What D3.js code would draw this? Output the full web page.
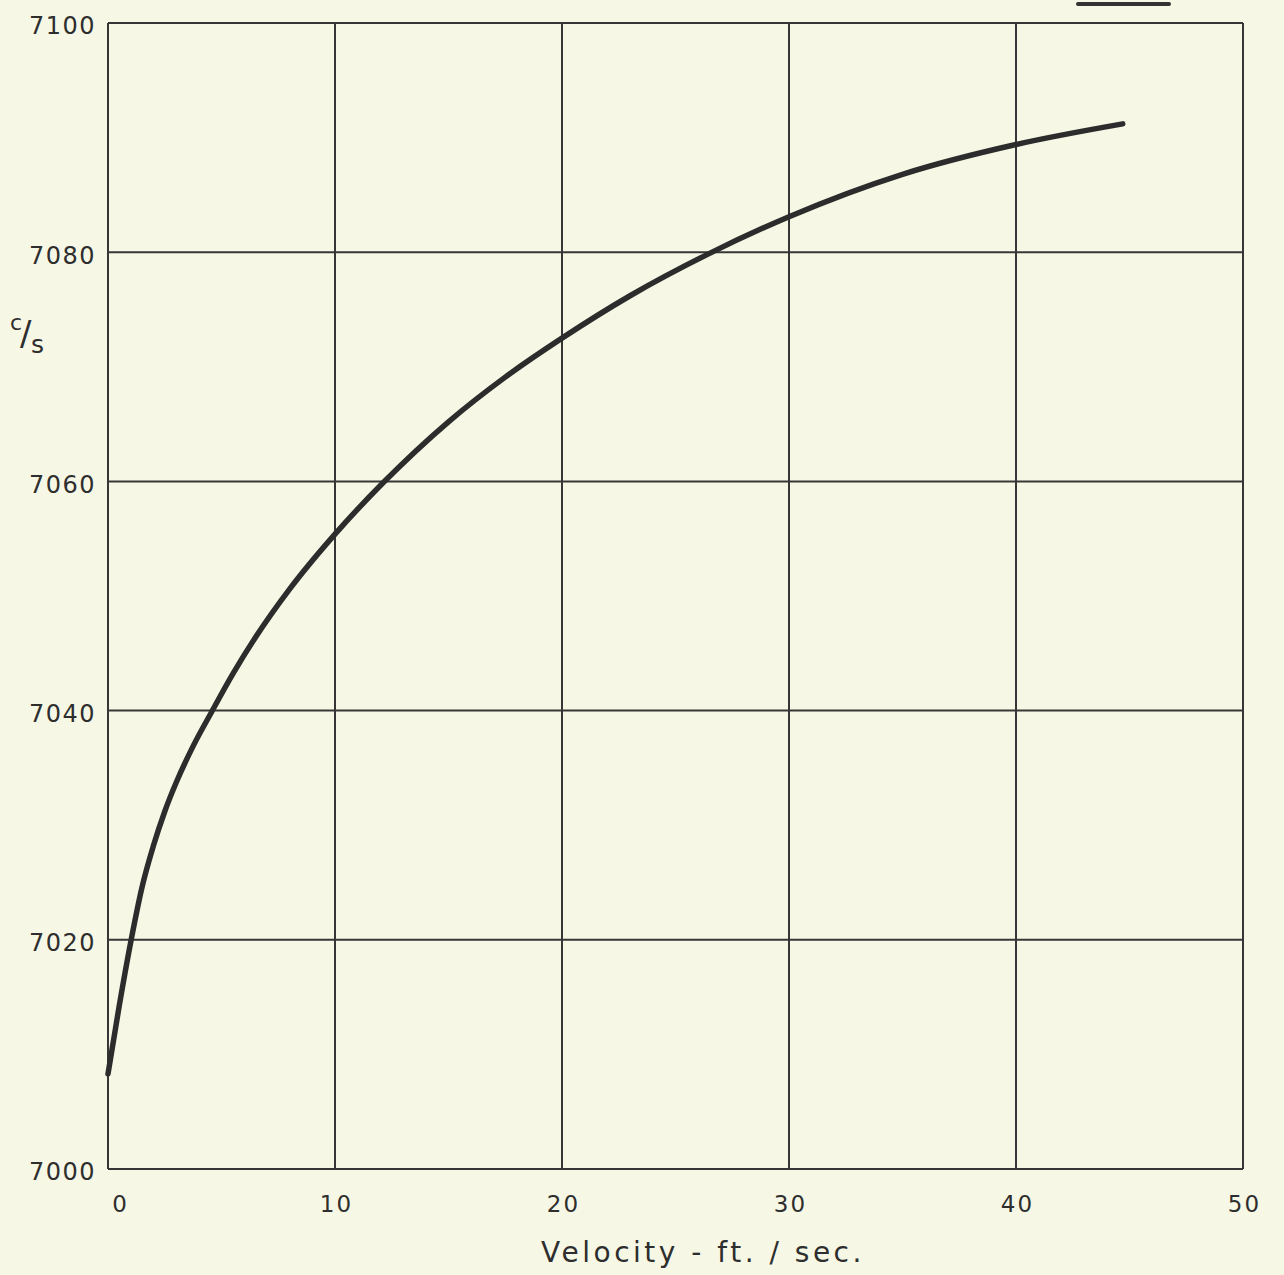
<!DOCTYPE html>
<html>
<head>
<meta charset="utf-8">
<script src="https://cdn.jsdelivr.net/npm/d3@7"></script>
<style>
  html, body { margin: 0; padding: 0; background: #f6f8e5; }
  svg { display: block; }
  text { font-family: "DejaVu Sans", Lato, sans-serif; fill: #2e2e2e; }
</style>
</head>
<body>
<svg id="chart" width="1284" height="1275"></svg>
<script>
// ---- data ----
const velocity = [0, 0.5, 1.04, 1.5, 2, 2.5, 3, 3.75, 4.57, 5.5, 6.5, 8, 10, 12.13, 15, 17.5, 20, 23, 26.5, 30, 35, 40, 44.7];
const frequency = [7008.3, 7014.3, 7020.2, 7024.6, 7028.2, 7031.2, 7033.7, 7036.9, 7039.9, 7043.2, 7046.4, 7050.6, 7055.4, 7059.9, 7065.2, 7069.1, 7072.5, 7076.2, 7079.9, 7083.1, 7086.8, 7089.4, 7091.2];
const xTicks = [0, 10, 20, 30, 40, 50];
const yTicks = [7000, 7020, 7040, 7060, 7080, 7100];
const xTitle = "Velocity - ft. / sec.";

// ---- layout ----
const svg = d3.select("#chart");
const plotLeft = 108, plotRight = 1243, plotTop = 23, plotBottom = 1169;
const x = d3.scaleLinear().domain([0, 50]).range([plotLeft, plotRight]);
const y = d3.scaleLinear().domain([7000, 7100]).range([plotBottom, plotTop]);
const ink = "#363636";
const font = "'DejaVu Sans', Lato, sans-serif";

// grid lines
const g = svg.append("g");
g.selectAll(".vg").data(xTicks).join("line")
  .attr("x1", d => x(d)).attr("x2", d => x(d))
  .attr("y1", y(7000)).attr("y2", y(7100))
  .attr("stroke", ink).attr("stroke-width", 2);
g.selectAll(".hg").data(yTicks).join("line")
  .attr("x1", x(0)).attr("x2", x(50))
  .attr("y1", d => y(d)).attr("y2", d => y(d))
  .attr("stroke", ink).attr("stroke-width", 2);

// axes (labels only)
const xAxis = svg.append("g").attr("transform", `translate(0,${plotBottom})`)
  .call(d3.axisBottom(x).tickValues(xTicks).tickSize(0).tickPadding(27).tickFormat(d3.format("d")));
xAxis.select(".domain").remove();
xAxis.selectAll("text").attr("font-size", 23).attr("fill", "#2e2e2e")
  .style("font-family", font).style("letter-spacing", "2px")
  .attr("dx", d => d === 0 ? 12 : 1);

const yAxis = svg.append("g").attr("transform", `translate(${plotLeft},0)`)
  .call(d3.axisLeft(y).tickValues(yTicks).tickSize(0).tickPadding(12).tickFormat(d3.format("d")));
yAxis.select(".domain").remove();
yAxis.selectAll("text").attr("font-size", 24).attr("fill", "#2e2e2e")
  .style("font-family", font).style("letter-spacing", "1.5px")
  .attr("dy", "0.45em");

// y unit label c/s
const cs = svg.append("text");
cs.append("tspan").text("c").attr("x", 10).attr("y", 330).attr("font-size", 22);
cs.append("tspan").text("/").attr("x", 20).attr("y", 345).attr("font-size", 34);
cs.append("tspan").text("s").attr("x", 31).attr("y", 353).attr("font-size", 25);

// x title
svg.append("text").attr("x", 703).attr("y", 1262)
  .attr("text-anchor", "middle").attr("font-size", 28)
  .style("letter-spacing", "3.5px").text(xTitle);

// curve
const pts = velocity.map((v, i) => [v, frequency[i]]);
svg.append("path").datum(pts)
  .attr("fill", "none").attr("stroke", "#2c2c2c").attr("stroke-width", 5.5)
  .attr("stroke-linecap", "round").attr("stroke-linejoin", "round")
  .attr("d", d3.line().x(d => x(d[0])).y(d => y(d[1])).curve(d3.curveMonotoneX));

// small stray mark at top right (from original sheet)
svg.append("line").attr("x1", 1078).attr("x2", 1169).attr("y1", 4).attr("y2", 4)
  .attr("stroke", "#333").attr("stroke-width", 4).attr("stroke-linecap", "round");
</script>
</body>
</html>
